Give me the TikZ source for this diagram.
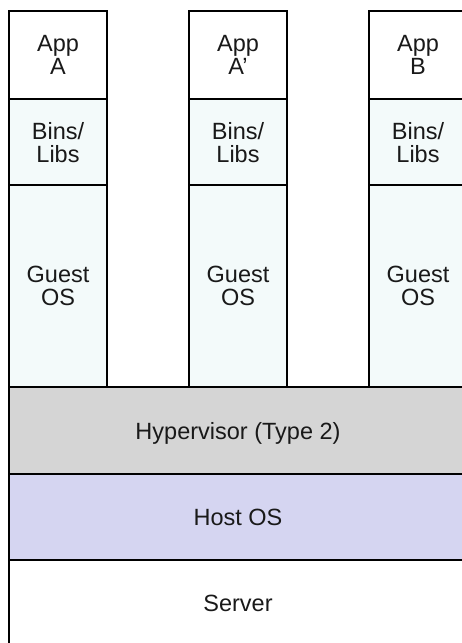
\documentclass[tikz,border=0pt]{standalone}
\usepackage{fontspec}
\setmainfont{Liberation Sans}
\usetikzlibrary{positioning}

\definecolor{libfill}{HTML}{F3FAFA}
\definecolor{hypfill}{HTML}{D5D5D5}
\definecolor{hostfill}{HTML}{D5D5F1}

\begin{document}
\begin{tikzpicture}
  \tikzset{layer/.style={draw,rectangle,color=black,line width=1.2pt,
                         outer sep=0pt,inner sep=0pt,align=center,
                         text=black!90,text depth=0pt,
                         font=\fontsize{23.5}{23}\selectfont}
                         }

%%%%%%%%%%%%%%%%%%%%%%%%%%%%%%%%%%%%%%%%%%%%%%%%%%%%%%%%%%%%%%%%%%%%%%%%%%%%%%

\useasboundingbox (0pt,0pt) rectangle (462pt,-643pt);
\clip (0pt,0pt) rectangle (462pt,-643pt);

%%%%%%%%%%%%%%%%%%%%%%%%%%%%%%%%%%%%%%%%%%%%%%%%%%%%%%%%%%%%%%%%%%%%%%%%%%%%%%

\node[layer,minimum width=98pt,minimum height=88pt,anchor=north west] (AA) at (9pt,-11pt) {App\\A};
\node[layer,fill=libfill,minimum width=98pt,minimum height=86pt,below=0pt of AA] (BLA) {Bins/\\Libs};
\node[layer,fill=libfill,minimum width=98pt,minimum height=202pt,below=0pt of BLA] (GOA) {Guest\\OS};

\node[layer,minimum width=98pt,minimum height=88pt,right=82pt of AA] (AAP) {App\\A'};
\node[layer,fill=libfill,minimum width=98pt,minimum height=86pt,below=0pt of AAP] (BLAP) {Bins/\\Libs};
\node[layer,fill=libfill,minimum width=98pt,minimum height=202pt,below=0pt of BLAP] (GOAP) {Guest\\OS};

\node[layer,minimum width=98pt,minimum height=88pt,right=82pt of AAP] (AB) {App\\B};
\node[layer,fill=libfill,minimum width=98pt,minimum height=86pt,below=0pt of AB] (BLB) {Bins/\\Libs};
\node[layer,fill=libfill,minimum width=98pt,minimum height=202pt,below=0pt of BLB] (GOB) {Guest\\OS};

%%%%%%%%%%%%%%%%%%%%%%%%%%%%%%%%%%%%%%%%%%%%%%%%%%%%%%%%%%%%%%%%%%%%%%%%%%%%%%

\node[layer,fill=hypfill,minimum width=458pt,minimum height=87pt,anchor=north west] (HV) at (GOA.south west) {Hypervisor (Type 2)};
\node[layer,fill=hostfill,minimum width=458pt,minimum height=86pt,below=0pt of HV] (HOS) {Host OS};
\node[layer,minimum width=458pt,minimum height=86pt,below=0pt of HOS] (SRV) {Server};

%%%%%%%%%%%%%%%%%%%%%%%%%%%%%%%%%%%%%%%%%%%%%%%%%%%%%%%%%%%%%%%%%%%%%%%%%%%%%%

\end{tikzpicture}
\end{document}
